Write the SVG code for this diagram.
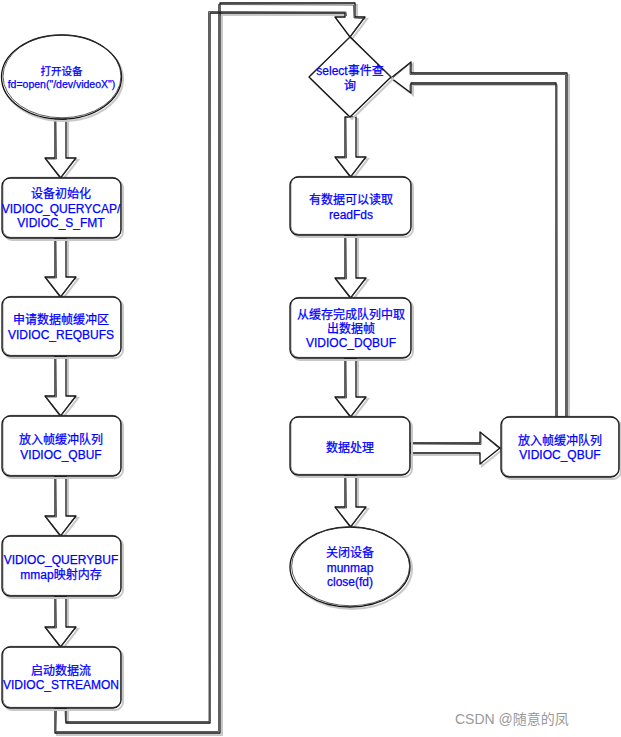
<svg xmlns="http://www.w3.org/2000/svg" width="621" height="737" viewBox="0 0 621 737">
<style>
.bg{fill:#ffffff}
.sh{fill:none;stroke:#c8c8c8;stroke-width:2}
.ln{fill:#ffffff;stroke:#111;stroke-width:1.3;stroke-linejoin:round}
.ln2{fill:none;stroke:#333;stroke-width:0.8;stroke-linejoin:round}
.t{font-family:"Liberation Sans","Noto Sans CJK SC",sans-serif;font-size:12px;fill:#0000ff;stroke:#0000ff;stroke-width:0.25;text-anchor:middle;dominant-baseline:central}
.ts{font-size:10.5px}
.wm{font-family:"Liberation Sans","Noto Sans CJK SC",sans-serif;font-size:14px;fill:#999}
</style>
<rect class="bg" x="0" y="0" width="621" height="737"/>
<g id="connectors">
  <g id="c1"><polygon class="sh" points="57,121 57,160 47,160 62.5,180 78,160 68,160 68,121"/><polygon class="ln" points="55,119 55,158 45,158 60.5,178 76,158 66,158 66,119"/><polyline class="ln2" points="56,120 56.5,159 46,159 61,177.5 75,158.5"/></g>
  <g id="c2"><polygon class="sh" points="57,240 57,279 47,279 62.5,299 78,279 68,279 68,240"/><polygon class="ln" points="55,238 55,277 45,277 60.5,297 76,277 66,277 66,238"/><polyline class="ln2" points="56,239 56.5,278 46,278 61,296.5 75,277.5"/></g>
  <g id="c3"><polygon class="sh" points="57,358 57,398 47,398 62.5,418 78,398 68,398 68,358"/><polygon class="ln" points="55,356 55,396 45,396 60.5,416 76,396 66,396 66,356"/><polyline class="ln2" points="56,357 56.5,397 46,397 61,415.5 75,396.5"/></g>
  <g id="c4"><polygon class="sh" points="57,478 57,518 47,518 62.5,538 78,518 68,518 68,478"/><polygon class="ln" points="55,476 55,516 45,516 60.5,536 76,516 66,516 66,476"/><polyline class="ln2" points="56,477 56.5,517 46,517 61,535.5 75,516.5"/></g>
  <g id="c5"><polygon class="sh" points="57,598 57,629 47,629 62.5,649 78,629 68,629 68,598"/><polygon class="ln" points="55,596 55,627 45,627 60.5,647 76,627 66,627 66,596"/><polyline class="ln2" points="56,597 56.5,628 46,628 61,646.5 75,627.5"/></g>
  <g id="c6">
    <polygon class="sh" points="57,710 57,735 222,735 222,5 357,5 357,19 367,19 352,39 337,19 347,19 347,15 212,15 212,725 68,725 68,710"/>
    <polygon class="ln" points="55,708 55,733 220,733 220,3 355,3 355,17 365,17 350,37 335,17 345,17 345,13 210,13 210,723 66,723 66,708"/>
    <polyline class="ln2" points="56.5,709 56,731.5 218.5,731.5 218.5,4.5 353.5,5 354,18 363.5,18.5 350.5,36"/>
    <polyline class="ln2" points="65,709 65.5,721.5 209,721.5 208.5,11.5 346,12 346.5,16"/>
  </g>
  <g id="c7"><polygon class="sh" points="347,119 347,159 337,159 352.5,179 368,159 358,159 358,119"/><polygon class="ln" points="345,117 345,157 335,157 350.5,177 366,157 356,157 356,117"/><polyline class="ln2" points="346,118 346.5,158 336,158 351,176.5 365,157.5"/></g>
  <g id="c8"><polygon class="sh" points="347,237 347,280 337,280 352.5,300 368,280 358,280 358,237"/><polygon class="ln" points="345,235 345,278 335,278 350.5,298 366,278 356,278 356,235"/><polyline class="ln2" points="346,236 346.5,279 336,279 351,297.5 365,278.5"/></g>
  <g id="c9"><polygon class="sh" points="347,360 347,399 337,399 352.5,419 368,399 358,399 358,360"/><polygon class="ln" points="345,358 345,397 335,397 350.5,417 366,397 356,397 356,358"/><polyline class="ln2" points="346,359 346.5,398 336,398 351,416.5 365,397.5"/></g>
  <g id="c10"><polygon class="sh" points="347,477 347,509 337,509 352.5,529 368,509 358,509 358,477"/><polygon class="ln" points="345,475 345,507 335,507 350.5,527 366,507 356,507 356,475"/><polyline class="ln2" points="346,476 346.5,508 336,508 351,526.5 365,507.5"/></g>
  <g id="c11"><polygon class="sh" points="412,445 482,445 482,434 502,450 482,466 482,455 412,455"/><polygon class="ln" points="410,443 480,443 480,432 500,448 480,464 480,453 410,453"/><polyline class="ln2" points="411,444 481,444.5 481,433 499,448.5"/></g>
  <g id="c12">
    <polygon class="sh" points="558,419 558,85 413,85 413,95 393,80 413,64 413,75 569,75 569,419"/>
    <polygon class="ln" points="556,417 556,83 411,83 411,93 391,78 411,62 411,73 567,73 567,417"/>
    <polyline class="ln2" points="557.5,416 557,84.5 410,84.5 410,92"/>
    <polyline class="ln2" points="565.5,416 565.5,74.5 410,74.5 410,63.5 392,78.5"/>
  </g>
</g>
<g id="n1">
  <ellipse class="sh" cx="63" cy="79" rx="60" ry="42"/>
  <ellipse class="ln" cx="61.5" cy="77" rx="60" ry="42"/>
  <ellipse class="ln2" cx="62" cy="76.3" rx="59" ry="41.5"/>
  <text class="t ts" x="61.5" y="71">打开设备</text>
  <text class="t ts" x="61.5" y="84">fd=open("/dev/videoX")</text>
</g>
<g id="n2">
  <rect class="sh" x="4" y="180" width="119" height="60" rx="8"/>
  <rect class="ln" x="2" y="178" width="119" height="60" rx="8"/>
  <rect class="ln2" x="2.8" y="177.4" width="118" height="60" rx="8"/>
  <text class="t" x="61" y="194">设备初始化</text>
  <text class="t" x="61" y="208.5">VIDIOC_QUERYCAP/</text>
  <text class="t" x="61" y="223">VIDIOC_S_FMT</text>
</g>
<g id="n3">
  <rect class="sh" x="4" y="299" width="119" height="59" rx="8"/>
  <rect class="ln" x="2" y="297" width="119" height="59" rx="8"/>
  <rect class="ln2" x="2.8" y="296.4" width="118" height="59" rx="8"/>
  <text class="t" x="61" y="320">申请数据帧缓冲区</text>
  <text class="t" x="61" y="334.5">VIDIOC_REQBUFS</text>
</g>
<g id="n4">
  <rect class="sh" x="4" y="418" width="119" height="60" rx="8"/>
  <rect class="ln" x="2" y="416" width="119" height="60" rx="8"/>
  <rect class="ln2" x="2.8" y="415.4" width="118" height="60" rx="8"/>
  <text class="t" x="61" y="440">放入帧缓冲队列</text>
  <text class="t" x="61" y="454.5">VIDIOC_QBUF</text>
</g>
<g id="n5">
  <rect class="sh" x="4" y="538" width="119" height="60" rx="8"/>
  <rect class="ln" x="2" y="536" width="119" height="60" rx="8"/>
  <rect class="ln2" x="2.8" y="535.4" width="118" height="60" rx="8"/>
  <text class="t" x="61" y="560">VIDIOC_QUERYBUF</text>
  <text class="t" x="61" y="574.5">mmap映射内存</text>
</g>
<g id="n6">
  <rect class="sh" x="4" y="649" width="119" height="61" rx="8"/>
  <rect class="ln" x="2" y="647" width="119" height="61" rx="8"/>
  <rect class="ln2" x="2.8" y="646.4" width="118" height="61" rx="8"/>
  <text class="t" x="61" y="670.5">启动数据流</text>
  <text class="t" x="61" y="685">VIDIOC_STREAMON</text>
</g>
<g id="n7">
  <polygon class="sh" points="352,39 393,79 352,119 311,79"/>
  <polygon class="ln" points="350,37 391,77 350,117 309,77"/>
  <polyline class="ln2" points="309.5,76 350.5,36.5 391.5,77.5"/>
  <text class="t" x="350" y="71">select事件查</text>
  <text class="t" x="350" y="86">询</text>
</g>
<g id="n8">
  <rect class="sh" x="292" y="179" width="121" height="58" rx="8"/>
  <rect class="ln" x="290" y="177" width="121" height="58" rx="8"/>
  <rect class="ln2" x="290.8" y="176.4" width="120" height="58" rx="8"/>
  <text class="t" x="351" y="200">有数据可以读取</text>
  <text class="t" x="351" y="214.5">readFds</text>
</g>
<g id="n9">
  <rect class="sh" x="292" y="300" width="121" height="60" rx="8"/>
  <rect class="ln" x="290" y="298" width="121" height="60" rx="8"/>
  <rect class="ln2" x="290.8" y="297.4" width="120" height="60" rx="8"/>
  <text class="t" x="351" y="314.5">从缓存完成队列中取</text>
  <text class="t" x="351" y="328.5">出数据帧</text>
  <text class="t" x="351" y="342.5">VIDIOC_DQBUF</text>
</g>
<g id="n10">
  <rect class="sh" x="292" y="419" width="120" height="58" rx="8"/>
  <rect class="ln" x="290" y="417" width="120" height="58" rx="8"/>
  <rect class="ln2" x="290.8" y="416.4" width="119" height="58" rx="8"/>
  <text class="t" x="350" y="448">数据处理</text>
</g>
<g id="n11">
  <rect class="sh" x="503" y="419" width="118" height="60" rx="8"/>
  <rect class="ln" x="501" y="417" width="118" height="60" rx="8"/>
  <rect class="ln2" x="501.8" y="416.4" width="117" height="60" rx="8"/>
  <text class="t" x="560" y="441">放入帧缓冲队列</text>
  <text class="t" x="560" y="455">VIDIOC_QBUF</text>
</g>
<g id="n12">
  <ellipse class="sh" cx="352" cy="569" rx="60" ry="40"/>
  <ellipse class="ln" cx="350" cy="567" rx="60" ry="40"/>
  <ellipse class="ln2" cx="350.6" cy="566.3" rx="59" ry="39.5"/>
  <text class="t" x="350" y="553">关闭设备</text>
  <text class="t" x="350" y="567.5">munmap</text>
  <text class="t" x="350" y="582">close(fd)</text>
</g>
<text class="wm" x="455" y="724">CSDN @随意的凤</text>
</svg>
